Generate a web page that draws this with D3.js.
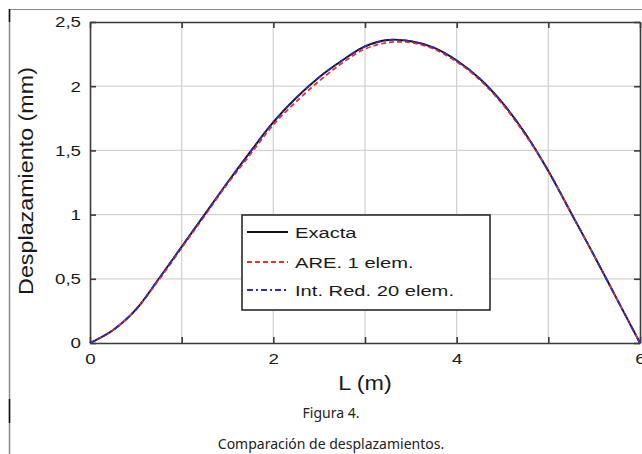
<!DOCTYPE html>
<html>
<head>
<meta charset="utf-8">
<script src="https://cdn.jsdelivr.net/npm/d3@7"></script>
<style>
  html, body { margin: 0; padding: 0; background: #fff; }
  svg { display: block; }
</style>
</head>
<body>
<svg id="chart" width="642" height="454"></svg>
<script>
// ---- Data ----
const positions = [0, 0.25, 0.5, 0.75, 1, 1.25, 1.5, 1.75, 2, 2.25, 2.5, 2.75, 3, 3.25, 3.5, 3.75, 4, 4.25, 4.5, 4.75, 5, 5.25, 5.5, 5.75, 6];
const exacta    = [0, 0.10, 0.26, 0.50, 0.75, 1.00, 1.25, 1.49, 1.72, 1.91, 2.07, 2.20, 2.31, 2.36, 2.35, 2.30, 2.20, 2.06, 1.87, 1.63, 1.34, 1.01, 0.68, 0.34, 0];
const are1      = [0, 0.10, 0.26, 0.49, 0.74, 0.99, 1.24, 1.47, 1.70, 1.88, 2.04, 2.18, 2.29, 2.34, 2.34, 2.29, 2.19, 2.05, 1.86, 1.62, 1.34, 1.01, 0.68, 0.34, 0];
const intRed20  = [0, 0.10, 0.26, 0.50, 0.75, 1.00, 1.25, 1.49, 1.72, 1.91, 2.07, 2.20, 2.31, 2.36, 2.35, 2.30, 2.20, 2.06, 1.87, 1.63, 1.34, 1.01, 0.68, 0.34, 0];
const seriesNames = ["Exacta", "ARE. 1 elem.", "Int. Red. 20 elem."];
const xTicks = [0, 1, 2, 3, 4, 5, 6];
const xTickLabels = ["0", "", "2", "", "4", "", "6"];
const yTicks = [0, 0.5, 1, 1.5, 2, 2.5];
const yTickLabels = ["0", "0,5", "1", "1,5", "2", "2,5"];
const xTitle = "L (m)";
const yTitle = "Desplazamiento (mm)";
const caption1 = "Figura 4.";
const caption2 = "Comparación de desplazamientos.";

// ---- Layout ----
const svg = d3.select("#chart");
const pL = 90, pR = 640, pT = 22, pB = 343;
const x = d3.scaleLinear().domain([0, 6]).range([pL, pR]);
const y = d3.scaleLinear().domain([0, 2.5]).range([pB, pT]);
const FONT = "'Liberation Sans', Arial, Helvetica, sans-serif";

// page frame lines
svg.append("line").attr("x1", 9.5).attr("x2", 642).attr("y1", 9.5).attr("y2", 9.5)
  .attr("stroke", "#8a8a8a").attr("stroke-width", 1);
svg.append("line").attr("x1", 9.5).attr("x2", 9.5).attr("y1", 9).attr("y2", 454)
  .attr("stroke", "#8a8a8a").attr("stroke-width", 1.5);
svg.append("line").attr("x1", 9.5).attr("x2", 9.5).attr("y1", 9).attr("y2", 22)
  .attr("stroke", "#111").attr("stroke-width", 1.5);
svg.append("line").attr("x1", 9.5).attr("x2", 9.5).attr("y1", 399).attr("y2", 423)
  .attr("stroke", "#111").attr("stroke-width", 1.5);

// grid
const grid = svg.append("g").attr("stroke", "#d4d4d4").attr("stroke-width", 1.3);
grid.selectAll(".gx").data(xTicks.slice(1, -1)).join("line")
  .attr("x1", d => x(d)).attr("x2", d => x(d)).attr("y1", pT).attr("y2", pB);
grid.selectAll(".gy").data(yTicks.slice(1, -1)).join("line")
  .attr("x1", pL).attr("x2", pR).attr("y1", d => y(d)).attr("y2", d => y(d));

// axes
const axisColor = "#3a3a3a";
function styleAxis(g) {
  g.select(".domain").attr("stroke", axisColor).attr("stroke-width", 1.6);
  g.selectAll(".tick line").attr("stroke", axisColor).attr("stroke-width", 1.6);
}
const TICKSX = 1.25;
const gx = svg.append("g").attr("transform", `translate(0,${pB})`)
  .call(d3.axisBottom(x).tickValues(xTicks).tickFormat((d, i) => xTickLabels[i])
    .tickSizeInner(-6).tickSizeOuter(0).tickPadding(10))
  .call(styleAxis);
gx.selectAll("text").attr("font-family", FONT).attr("font-size", 15).attr("fill", "#1a1a1a")
  .attr("transform", `scale(${TICKSX},1)`);

const gy = svg.append("g").attr("transform", `translate(${pL},0)`)
  .call(d3.axisLeft(y).tickValues(yTicks).tickFormat((d, i) => yTickLabels[i])
    .tickSizeInner(-6).tickSizeOuter(0).tickPadding(9))
  .call(styleAxis);
gy.selectAll("text").attr("font-family", FONT).attr("font-size", 15).attr("fill", "#1a1a1a")
  .attr("x", -9 / TICKSX).attr("transform", `scale(${TICKSX},1)`);

svg.append("g").attr("transform", `translate(0,${pT})`)
  .call(d3.axisTop(x).tickValues(xTicks).tickFormat("").tickSizeInner(-6).tickSizeOuter(0))
  .call(styleAxis);
svg.append("g").attr("transform", `translate(${pR},0)`)
  .call(d3.axisRight(y).tickValues(yTicks).tickFormat("").tickSizeInner(-6).tickSizeOuter(0))
  .call(styleAxis);

// series
const line = d3.line().x((d, i) => x(positions[i])).y(d => y(d)).curve(d3.curveCatmullRom.alpha(0.5));
const styles = [
  { data: exacta, color: "#111111", dash: null, width: 1.9 },
  { data: are1, color: "#f03030", dash: "5,3", width: 1.8 },
  { data: intRed20, color: "#2b2bc8", dash: "6,3,2,3", width: 1.8 }
];
styles.forEach(s => {
  svg.append("path").datum(s.data).attr("d", line).attr("fill", "none")
    .attr("stroke", s.color).attr("stroke-width", s.width)
    .attr("stroke-dasharray", s.dash);
});

// axis titles
svg.append("text").attr("font-family", FONT).attr("font-size", 21).attr("fill", "#1a1a1a")
  .attr("text-anchor", "middle")
  .attr("transform", `translate(365,390) scale(1.11,1)`).text(xTitle);
svg.append("text").attr("font-family", FONT).attr("font-size", 21).attr("fill", "#1a1a1a")
  .attr("text-anchor", "middle")
  .attr("transform", `translate(33,181) rotate(-90) scale(1.11,1)`).text(yTitle);

// legend
const lg = svg.append("g");
lg.append("rect").attr("x", 242).attr("y", 215).attr("width", 248).attr("height", 95)
  .attr("fill", "#fff").attr("stroke", "#2a2a2a").attr("stroke-width", 1.6);
const legendY = [232, 262, 290];
styles.forEach((s, i) => {
  lg.append("line").attr("x1", 247).attr("x2", 288).attr("y1", legendY[i]).attr("y2", legendY[i])
    .attr("stroke", s.color).attr("stroke-width", s.width).attr("stroke-dasharray", s.dash);
  lg.append("text").attr("font-family", FONT).attr("font-size", 15.5).attr("fill", "#1a1a1a")
    .attr("transform", `translate(295,${legendY[i] + 6}) scale(1.3,1)`).text(seriesNames[i]);
});

// captions
const CAP = "'Noto Sans', 'Open Sans', sans-serif";
svg.append("text").attr("font-family", CAP).attr("font-size", 14).attr("fill", "#222")
  .attr("text-anchor", "middle").attr("x", 331).attr("y", 418).text(caption1);
svg.append("text").attr("font-family", CAP).attr("font-size", 14).attr("fill", "#222")
  .attr("text-anchor", "middle").attr("x", 331).attr("y", 449).text(caption2);
</script>
</body>
</html>
